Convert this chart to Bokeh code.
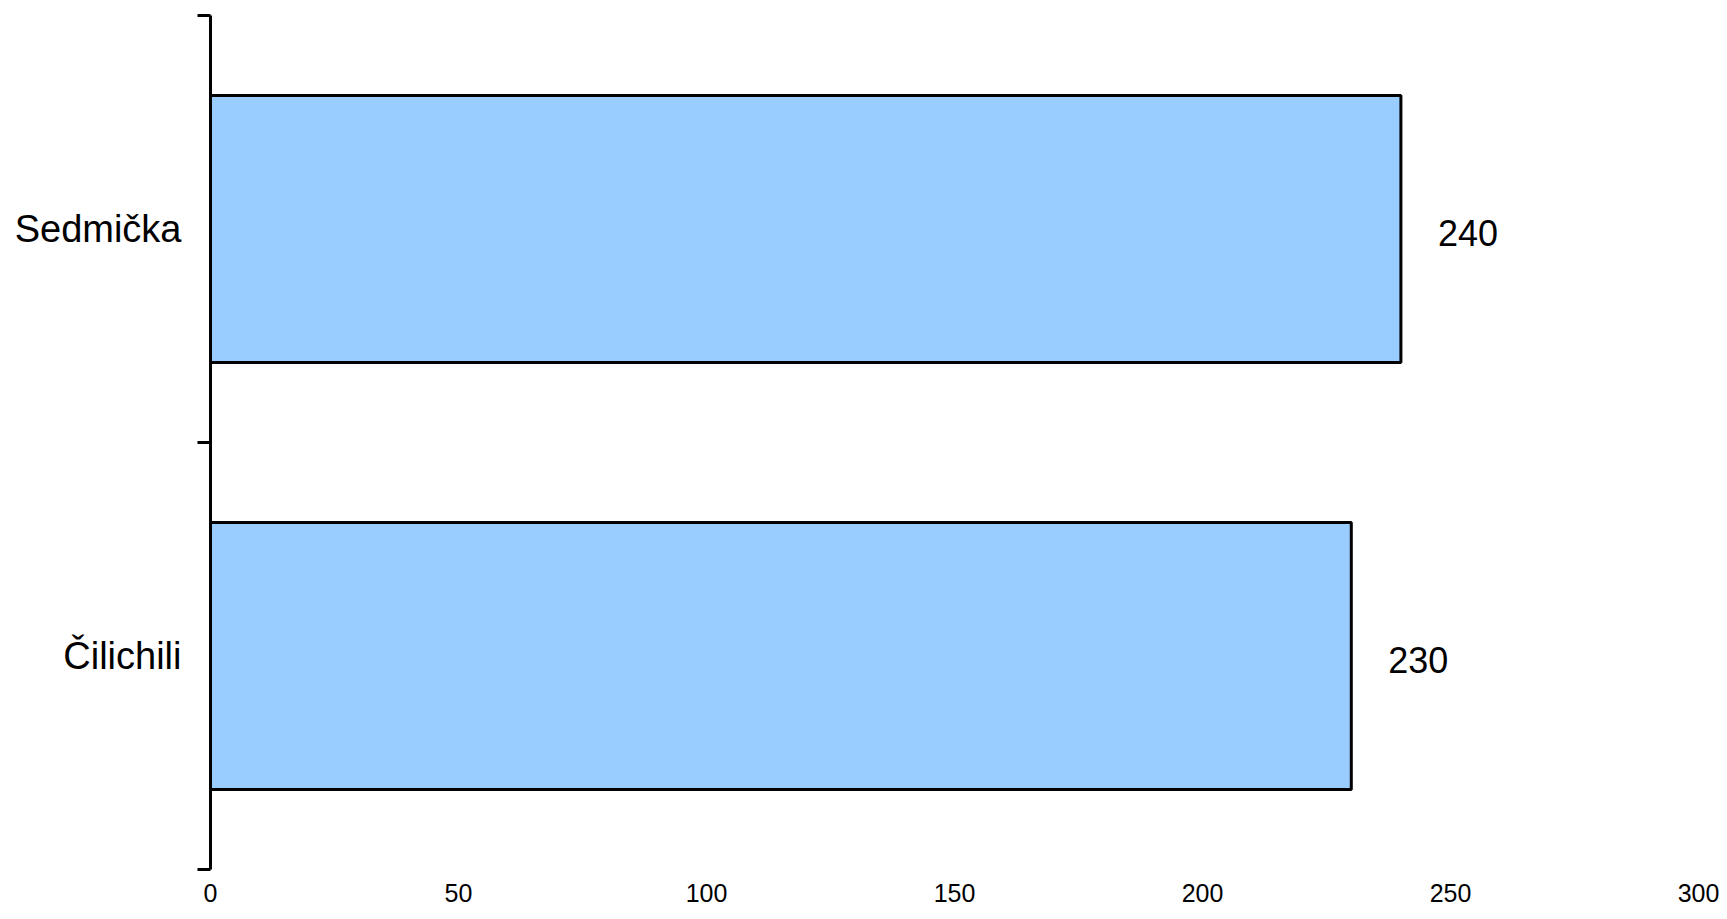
from bokeh.plotting import figure
from bokeh.models import FixedTicker, Range1d, ColumnDataSource
from bokeh.core.properties import value
from bokeh.embed import file_html
from bokeh.resources import INLINE

categories = ["Čilichili", "Sedmička"]
values = [230, 240]
x_ticks = [0, 50, 100, 150, 200, 250, 300]

ypos = [i + 0.5 for i in range(len(categories))]
src = ColumnDataSource(dict(y=ypos, v=values, lab=[str(v) for v in values]))

FONT = "Liberation Sans"

p = figure(frame_width=1488, frame_height=854, output_backend="svg", toolbar_location=None,
           x_range=Range1d(0, 300), y_range=Range1d(0, len(categories)),
           min_border_left=210, min_border_right=28, min_border_top=15, min_border_bottom=50)
p.outline_line_color = None
p.xgrid.visible = False
p.ygrid.visible = False
p.background_fill_color = "white"

p.hbar(y="y", right="v", left=0, height=0.625, source=src,
       fill_color="#99CCFF", line_color="black", line_width=3)

p.text(x="v", y="y", text="lab", source=src, x_offset=37, y_offset=4,
       text_align="left", text_baseline="middle",
       text_font=value(FONT), text_font_size="36px", text_color="black")

# x axis: labels only
xa = p.xaxis[0]
xa.ticker = FixedTicker(ticks=x_ticks)
xa.axis_line_color = None
xa.major_tick_line_color = None
xa.minor_tick_line_color = None
xa.major_tick_out = 0
xa.major_tick_in = 0
xa.minor_tick_out = 0
xa.minor_tick_in = 0
xa.major_label_text_font = FONT
xa.major_label_text_font_size = "25px"
xa.major_label_text_color = "black"
xa.major_label_standoff = 14

# y axis: ticks at category boundaries, labels at centers
ya = p.yaxis[0]
ya.ticker = FixedTicker(ticks=ypos, minor_ticks=list(range(len(categories) + 1)))
ya.major_label_overrides = {y: c for y, c in zip(ypos, categories)}
ya.axis_line_color = "black"
ya.axis_line_width = 3
ya.major_tick_line_color = None
ya.major_tick_out = 0
ya.major_tick_in = 0
ya.minor_tick_line_color = "black"
ya.minor_tick_line_width = 3
ya.minor_tick_out = 13
ya.minor_tick_in = 0
ya.major_label_text_font = FONT
ya.major_label_text_font_size = "38px"
ya.major_label_text_color = "black"
ya.major_label_standoff = 16

open("out.html", "w").write(file_html(p, INLINE))
